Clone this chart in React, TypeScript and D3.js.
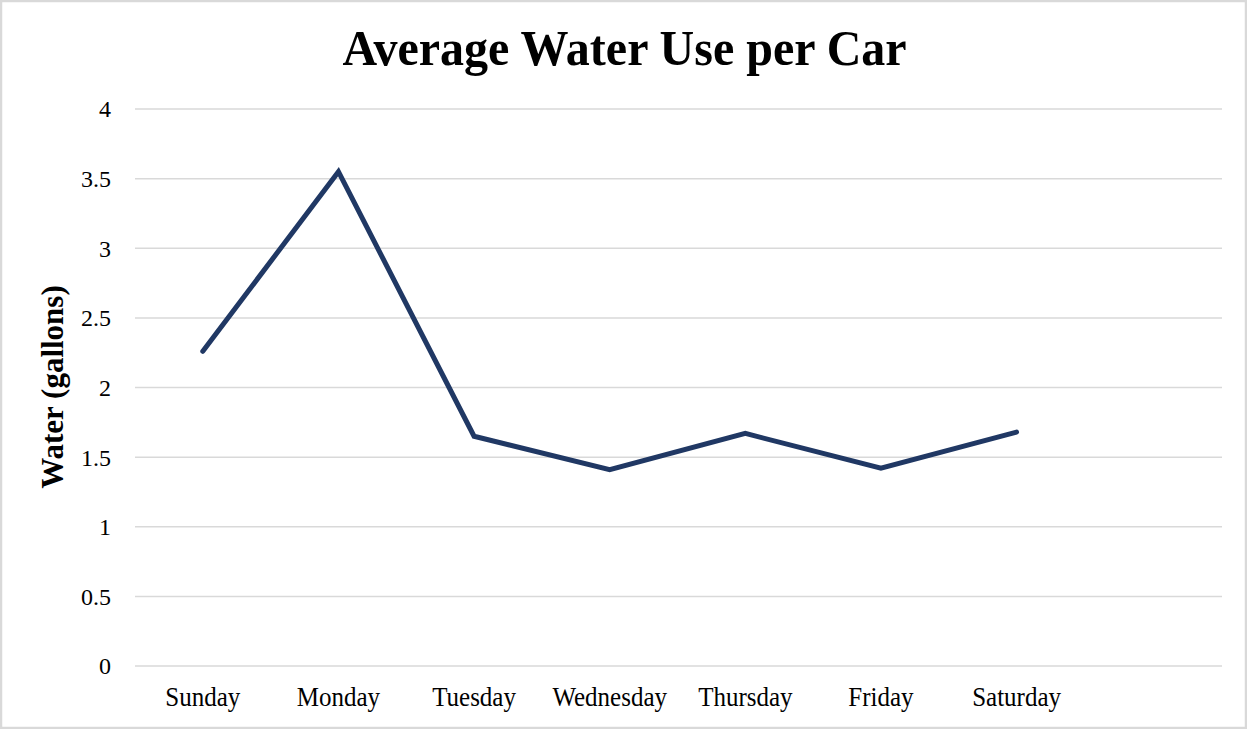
import React from "react";
import * as d3 from "d3";

const categories = ["Sunday", "Monday", "Tuesday", "Wednesday", "Thursday", "Friday", "Saturday", ""];
const values = [2.26, 3.55, 1.65, 1.41, 1.67, 1.42, 1.68];
const yTicks = [0, 0.5, 1, 1.5, 2, 2.5, 3, 3.5, 4];
const title = "Average Water Use per Car";
const yLabel = "Water (gallons)";

const W = 1247;
const H = 729;
const M = { left: 135, right: 27, top: 109, bottom: 63 };

export default function App() {
  const x = d3.scaleBand<string>().domain(categories).range([M.left, W - M.right]);
  const y = d3.scaleLinear().domain([0, 4]).range([H - M.bottom, M.top]);
  const line = d3
    .line<number>()
    .x((_, i) => (x(categories[i]) as number) + x.bandwidth() / 2)
    .y((d) => y(d));
  const font = "'Liberation Serif', 'Times New Roman', serif";
  return (
    <svg
      width={W}
      height={H}
      style={{ position: "absolute", left: 0, top: 0, background: "#fff" }}
      fontFamily={font}
    >
      <rect x={1} y={1} width={W - 2} height={H - 2} fill="#fff" stroke="#d9d9d9" strokeWidth={2.5} />
      <text
        transform={`translate(${W / 2 + 1}, 65) scale(1, 1.06)`}
        textAnchor="middle"
        fontSize={48}
        fontWeight="bold"
        fill="#000"
      >
        {title}
      </text>
      {yTicks.map((t) => (
        <g key={t}>
          <line x1={M.left} x2={W - M.right + 2} y1={y(t)} y2={y(t)} stroke="#d9d9d9" strokeWidth={1.5} />
          <text x={111} y={y(t)} dy="0.35em" textAnchor="end" fontSize={24} fill="#000">
            {String(t)}
          </text>
        </g>
      ))}
      {categories.map((c) =>
        c ? (
          <text
            key={c}
            transform={`translate(${(x(c) as number) + x.bandwidth() / 2}, 706) scale(1, 1.08)`}
            textAnchor="middle"
            fontSize={25}
            fill="#000"
          >
            {c}
          </text>
        ) : null
      )}
      <text
        transform={`translate(63, ${387}) rotate(-90)`}
        textAnchor="middle"
        fontSize={31}
        fontWeight="bold"
        fill="#000"
      >
        {yLabel}
      </text>
      <path d={line(values) || ""} fill="none" stroke="#203864" strokeWidth={5} strokeLinejoin="miter" strokeLinecap="round" />
    </svg>
  );
}
